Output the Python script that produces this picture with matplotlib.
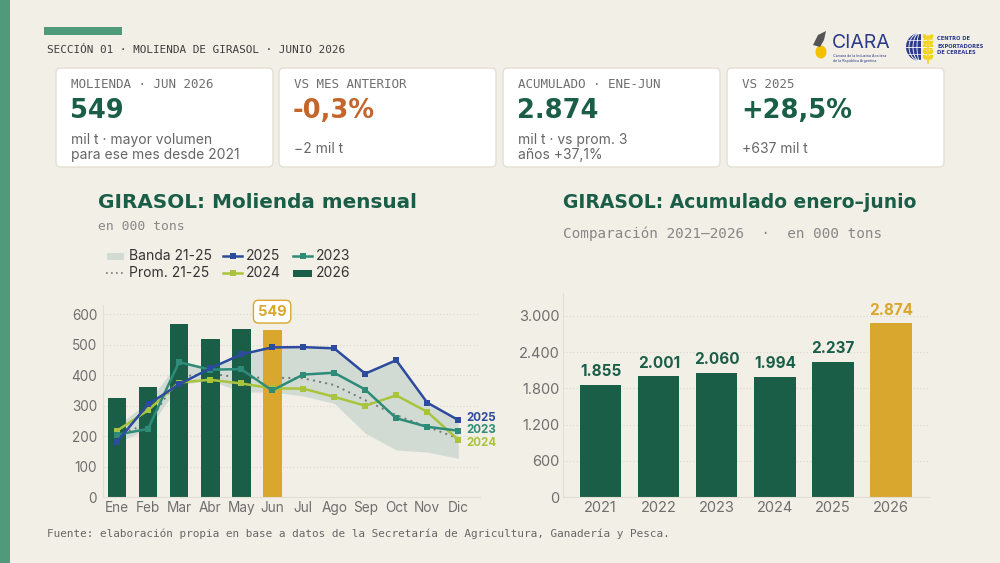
import matplotlib
matplotlib.use("Agg")
import matplotlib.pyplot as plt
from matplotlib.patches import FancyBboxPatch, Rectangle, Ellipse, Polygon, Circle
from matplotlib.lines import Line2D
import numpy as np

# ---------------- data ----------------
months = ['Ene', 'Feb', 'Mar', 'Abr', 'May', 'Jun', 'Jul', 'Ago', 'Sep', 'Oct', 'Nov', 'Dic']
m2026 = [324, 362, 568, 520, 551, 549]
m2025 = [182, 304, 370, 422, 468, 491, 492, 488, 405, 449, 310, 253]
m2024 = [218, 285, 376, 385, 373, 357, 356, 329, 300, 334, 280, 188]
m2023 = [205, 224, 443, 418, 420, 350, 402, 408, 353, 259, 231, 218]
prom_21_25 = [205, 240, 395, 405, 392, 392, 390, 368, 318, 269, 231, 193]
band_lo = [180, 222, 368, 383, 345, 345, 332, 308, 210, 155, 148, 128]
band_hi = [235, 312, 446, 425, 470, 492, 494, 490, 407, 450, 312, 255]
left_yticks = [0, 100, 200, 300, 400, 500, 600]

years = ['2021', '2022', '2023', '2024', '2025', '2026']
acum = [1855, 2001, 2060, 1994, 2237, 2874]
right_yticks = [0, 600, 1200, 1800, 2400, 3000]

kpi_labels = ['MOLIENDA · JUN 2026', 'VS MES ANTERIOR', 'ACUMULADO · ENE-JUN', 'VS 2025']
kpi_values = ['549', '-0,3%', '2.874', '+28,5%']
kpi_subs = ['mil t · mayor volumen\npara ese mes desde 2021', '−2 mil t',
            'mil t · vs prom. 3\naños +37,1%', '+637 mil t']

# ---------------- style ----------------
BG = '#F2EFE7'
GREEN = '#1A5E48'
STRIPE = '#4E9A7A'
GOLD = '#D9A62E'
BLUE = '#2C4A9E'
TEAL = '#2E8B77'
LIME = '#A9C43C'
BAND = '#D2DBD3'
ORANGE = '#C4662B'
GRAY = '#6E6E6E'
DARK = '#333333'
SANS = ['Inter', 'DejaVu Sans']
HEAVY = ['DejaVu Sans']
MONO = ['DejaVu Sans Mono']

plt.rcParams['font.family'] = SANS

fig = plt.figure(figsize=(10, 5.63), dpi=100)
fig.patch.set_facecolor(BG)

cv = fig.add_axes([0, 0, 1, 1])
cv.set_xlim(0, 1000)
cv.set_ylim(563, 0)
cv.axis('off')
cv.set_zorder(0)

# left stripe and accent
cv.add_patch(Rectangle((0, 0), 10, 563, color=STRIPE, lw=0))
cv.add_patch(Rectangle((44, 27), 78, 8, color=STRIPE, lw=0))
cv.text(47, 50, 'SECCIÓN 01 · MOLIENDA DE GIRASOL · JUNIO 2026', family=MONO,
        fontsize=7.9, color='#3D3D3D', va='center', ha='left')

# KPI cards
card_x = [56, 279, 503, 727]
for i, x0 in enumerate(card_x):
    cv.add_patch(FancyBboxPatch((x0, 68), 217, 99, boxstyle='round,pad=0,rounding_size=5',
                                facecolor='white', edgecolor='#E4DFD3', lw=1.0))
    cv.text(x0 + 15, 85, kpi_labels[i], family=MONO, fontsize=9, color=GRAY,
            va='center', ha='left')
    vcol = ORANGE if kpi_values[i].startswith('-') else GREEN
    cv.text(x0 + 14, 111, kpi_values[i], fontsize=18.5, fontweight='bold', color=vcol,
            va='center', ha='left', family=HEAVY)
    sub = kpi_subs[i]
    if '\n' in sub:
        l1, l2 = sub.split('\n')
        cv.text(x0 + 15, 140, l1, fontsize=10, color='#666666', va='center', ha='left')
        cv.text(x0 + 15, 155, l2, fontsize=10, color='#666666', va='center', ha='left')
    else:
        cv.text(x0 + 15, 149, sub, fontsize=10, color='#666666', va='center', ha='left')

# logos (approximation)
NAVY = '#2B3A8A'
cv.add_patch(Ellipse((821, 52), 11, 13, color='#F2C200', lw=0))
cv.add_patch(Polygon([(813, 45), (818, 35), (826, 31), (824, 40), (820, 47)], closed=True,
                     color='#555555', lw=0))
cv.text(832, 43, 'CIARA', fontsize=14, color=NAVY, va='center', ha='left')
cv.text(833, 56, 'Cámara de la Industria Aceitera', fontsize=2.6, color=NAVY, va='center')
cv.text(833, 61, 'de la República Argentina', fontsize=2.6, color=NAVY, va='center')
cv.add_patch(Circle((920, 47), 14, color=NAVY, lw=0))
for w in (6, 14, 22):
    cv.add_patch(Ellipse((920, 47), w, 28, fill=False, edgecolor='white', lw=0.6))
cv.add_line(Line2D([906, 934], [47, 47], color='white', lw=0.6))
cv.add_line(Line2D([908, 932], [40, 40], color='white', lw=0.5))
cv.add_line(Line2D([908, 932], [54, 54], color='white', lw=0.5))
cv.add_patch(Rectangle((921, 31), 14, 32, color=BG, lw=0))
for k in range(5):
    cv.add_patch(Ellipse((925, 37 + k * 5), 4, 6, angle=-30, color='#F2D21B', lw=0))
    cv.add_patch(Ellipse((931, 37 + k * 5), 4, 6, angle=30, color='#F2D21B', lw=0))
cv.add_line(Line2D([928, 928], [36, 63], color='#F2D21B', lw=1.2))
for k, t in enumerate(['CENTRO DE', 'EXPORTADORES', 'DE CEREALES']):
    cv.text(937, 39 + k * 7, t, fontsize=3.7, fontweight='bold', color=NAVY,
            va='center', ha='left', family=['DejaVu Sans'])

# ---------------- left chart ----------------
cv.text(98, 202, 'GIRASOL: Molienda mensual', fontsize=14.4, fontweight='bold', color=GREEN,
        va='center', ha='left', family=HEAVY)
cv.text(98, 227, 'en 000 tons', family=MONO, fontsize=9.4, color='#888888', va='center', ha='left')

# legend (manual)
leg_fs = 10
cv.add_patch(Rectangle((107, 253), 17, 7, color=BAND, lw=0))
cv.text(129, 256, 'Banda 21-25', fontsize=leg_fs, color=DARK, va='center', ha='left')
cv.add_line(Line2D([106, 124], [273, 273], color='#777777', lw=1.2, ls=(0, (1, 2))))
cv.text(129, 273, 'Prom. 21-25', fontsize=leg_fs, color=DARK, va='center', ha='left')
for (yy, col, lab) in [(256, BLUE, '2025'), (273, LIME, '2024')]:
    cv.add_line(Line2D([223, 242], [yy, yy], color=col, lw=1.8))
    cv.add_line(Line2D([232.5], [yy], color=col, marker='s', markersize=4, markeredgewidth=0))
    cv.text(246, yy, lab, fontsize=leg_fs, color=DARK, va='center', ha='left')
cv.add_line(Line2D([293, 312], [256, 256], color=TEAL, lw=1.8))
cv.add_line(Line2D([302.5], [256], color=TEAL, marker='s', markersize=4, markeredgewidth=0))
cv.text(316, 256, '2023', fontsize=leg_fs, color=DARK, va='center', ha='left')
cv.add_patch(Rectangle((293, 270), 19, 7, color=GREEN, lw=0))
cv.text(316, 273, '2026', fontsize=leg_fs, color=DARK, va='center', ha='left')

axL = fig.add_axes([0.1027, 0.1167, 0.3773, 0.3416])
axL.set_facecolor('none')
x = np.arange(len(months))
axL.fill_between(x, band_lo, band_hi, color=BAND, lw=0, zorder=1)
axL.plot(x, prom_21_25, color='#777777', lw=1.4, ls=(0, (1, 2.2)), zorder=1.5)
bar_colors = [GREEN] * 5 + [GOLD]
axL.bar(x[:len(m2026)], m2026, width=0.61, color=bar_colors, zorder=2)
for series, col in [(m2024, LIME), (m2023, TEAL), (m2025, BLUE)]:
    axL.plot(x, series, color=col, lw=1.8, marker='s', markersize=4.5, markeredgewidth=0,
             zorder=3)
for series, col, lab, dy in [(m2025, BLUE, '2025', 1.5), (m2023, TEAL, '2023', 0.6),
                             (m2024, LIME, '2024', -2.2)]:
    axL.annotate(lab, xy=(x[-1], series[-1]), xytext=(6, dy), textcoords='offset points',
                 color=col, fontsize=8.3, fontweight='bold', va='center', ha='left',
                 annotation_clip=False)
axL.annotate(str(m2026[-1]), xy=(5, m2026[-1]), xytext=(0, 13), textcoords='offset points',
             ha='center', va='center', fontsize=10.5, fontweight='bold', color=GOLD,
             bbox=dict(boxstyle='round,pad=0.3,rounding_size=0.35', fc='white', ec=GOLD, lw=1),
             annotation_clip=False, zorder=5)
axL.set_xlim(-0.46, 11.7)
axL.set_ylim(0, 630)
axL.set_xticks(x)
axL.set_xticklabels(months)
axL.set_yticks(left_yticks)
axL.set_yticklabels([str(v) for v in left_yticks])
axL.tick_params(length=0, labelsize=9.8, labelcolor=GRAY)
axL.tick_params(axis='y', pad=4)
axL.tick_params(axis='x', pad=3)
axL.yaxis.grid(True, color='#DDD8CC', lw=0.8, ls=(0, (1, 2)))
axL.set_axisbelow(True)
for s in ['top', 'right']:
    axL.spines[s].set_visible(False)
for s in ['left', 'bottom']:
    axL.spines[s].set_color('#E3DED3')
    axL.spines[s].set_linewidth(0.8)

# ---------------- right chart ----------------
cv.text(563, 203, 'GIRASOL: Acumulado enero–junio', fontsize=13.5, fontweight='bold',
        color=GREEN, va='center', ha='left', family=HEAVY)
cv.text(563, 234, 'Comparación 2021–2026  ·  en 000 tons', family=MONO, fontsize=10.4,
        color='#888888', va='center', ha='left')

axR = fig.add_axes([0.5633, 0.1167, 0.3667, 0.3623])
axR.set_facecolor('none')
xr = np.arange(len(years))
rcols = [GREEN] * 5 + [GOLD]
axR.bar(xr, acum, width=0.71, color=rcols, zorder=2)
for xi, v, c in zip(xr, acum, rcols):
    axR.annotate(f'{v:,}'.replace(',', '.'), xy=(xi, v), xytext=(0, 4),
                 textcoords='offset points', ha='center', va='bottom', fontsize=11,
                 fontweight='bold', color=c, annotation_clip=False)
axR.set_xlim(-0.644, 5.67)
axR.set_ylim(0, 3370)
axR.set_xticks(xr)
axR.set_xticklabels(years)
axR.set_yticks(right_yticks)
axR.set_yticklabels([f'{v:,}'.replace(',', '.') for v in right_yticks])
axR.tick_params(length=0, labelsize=10.5, labelcolor=GRAY)
axR.tick_params(axis='y', pad=3)
axR.tick_params(axis='x', pad=3)
axR.yaxis.grid(True, color='#DDD8CC', lw=0.8, ls=(0, (1, 2)))
axR.set_axisbelow(True)
for s in ['top', 'right']:
    axR.spines[s].set_visible(False)
for s in ['left', 'bottom']:
    axR.spines[s].set_color('#E3DED3')
    axR.spines[s].set_linewidth(0.8)

# footer
cv.text(47, 534, 'Fuente: elaboración propia en base a datos de la Secretaría de Agricultura, '
        'Ganadería y Pesca.', family=MONO, fontsize=7.9, color='#666666', va='center', ha='left')

fig.savefig('out.png', dpi=100, facecolor=BG)
